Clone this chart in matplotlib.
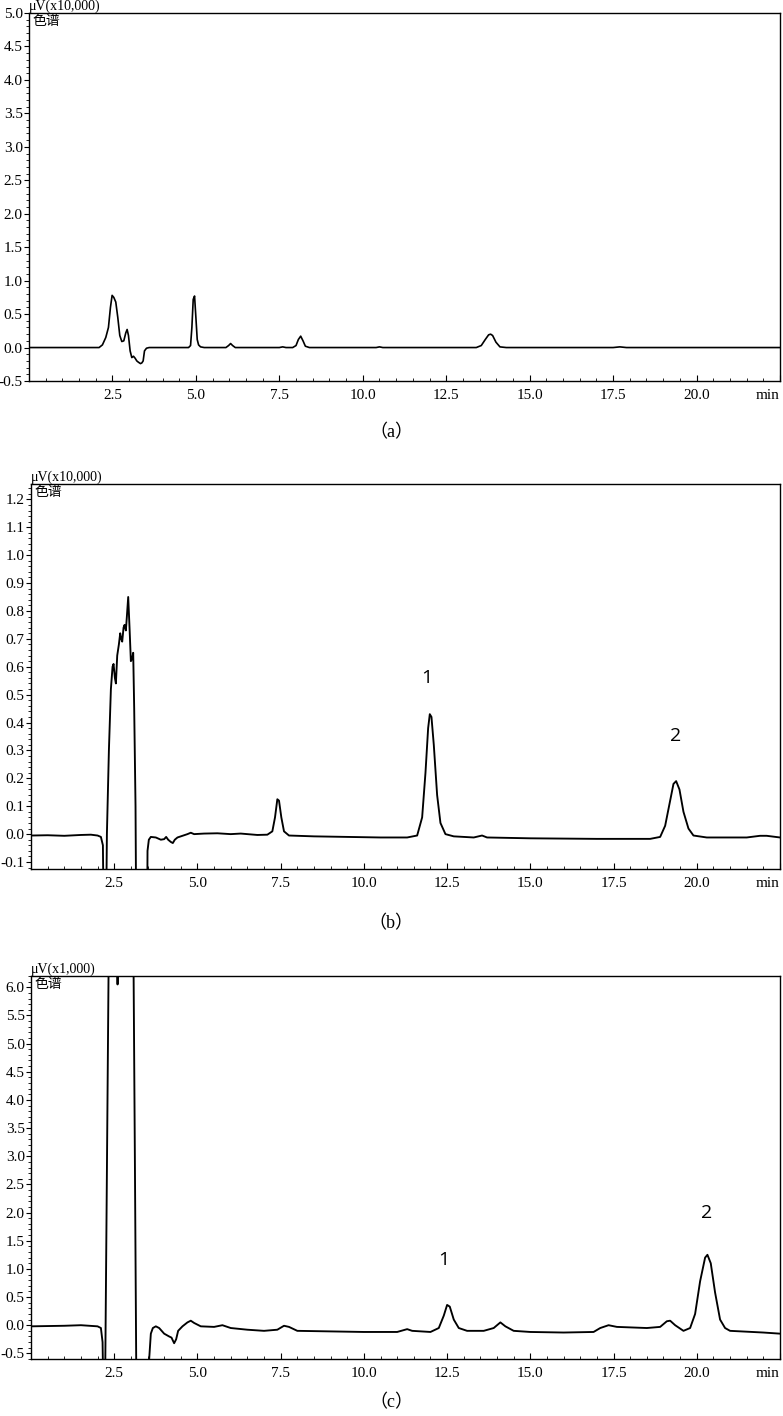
import matplotlib
matplotlib.use("Agg")
import matplotlib.pyplot as plt
from matplotlib.ticker import MultipleLocator

plt.rcParams['font.family'] = ['Liberation Serif', 'Noto Sans CJK SC', 'DejaVu Sans']

# ---------------- data ----------------
# Panel (a): µV (x10,000)
t_a = [0.0, 2.1, 2.2, 2.3, 2.38, 2.44, 2.49, 2.54, 2.6, 2.66, 2.72, 2.78, 2.84, 2.9, 2.94,
       2.98, 3.03, 3.08, 3.13, 3.18, 3.23, 3.28, 3.34, 3.38, 3.42, 3.46, 3.52, 3.6, 4.78,
       4.84, 4.88, 4.92, 4.96, 5.0, 5.04, 5.08, 5.14, 5.25, 5.9, 5.98, 6.04, 6.1, 6.18,
       7.5, 7.6, 7.7, 7.9, 8.0, 8.07, 8.14, 8.21, 8.28, 8.4, 10.4, 10.5, 10.6, 13.4, 13.55,
       13.67, 13.77, 13.83, 13.89, 13.99, 14.11, 14.3, 17.5, 17.7, 17.9, 22.5]
v_a = [0.0, 0.0, 0.04, 0.15, 0.3, 0.6, 0.78, 0.75, 0.68, 0.45, 0.18, 0.09, 0.1, 0.22, 0.27,
       0.18, -0.05, -0.15, -0.13, -0.16, -0.2, -0.22, -0.24, -0.23, -0.2, -0.05, -0.01, 0.0, 0.0,
       0.03, 0.3, 0.72, 0.77, 0.45, 0.12, 0.04, 0.01, 0.0, 0.0, 0.03, 0.06, 0.03, 0.0,
       0.0, 0.01, 0.0, 0.0, 0.03, 0.12, 0.17, 0.1, 0.02, 0.0, 0.0, 0.01, 0.0, 0.0, 0.03,
       0.12, 0.19, 0.2, 0.18, 0.08, 0.01, 0.0, 0.0, 0.01, 0.0, 0.0]

# Panel (b): µV (x10,000)
t_b = [0.0, 0.5, 1.0, 1.5, 1.8, 2.0, 2.1, 2.16, 2.2, 2.24, 2.28, 2.34, 2.4, 2.45, 2.48, 2.52,
       2.55, 2.59, 2.64, 2.68, 2.71, 2.74, 2.78, 2.81, 2.85, 2.88, 2.92, 2.96, 3.0, 3.04, 3.07,
       3.1, 3.14, 3.17, 3.48, 3.5, 3.54, 3.6, 3.75, 3.9, 4.0, 4.06, 4.12, 4.2, 4.26, 4.32, 4.4,
       4.55, 4.7, 4.8, 4.9, 5.2, 5.6, 6.0, 6.3, 6.8, 7.1, 7.25, 7.33, 7.4, 7.45, 7.52, 7.6,
       7.75, 8.5, 9.5, 10.5, 11.3, 11.6, 11.75, 11.85, 11.93, 11.98, 12.03, 12.1, 12.2, 12.3,
       12.45, 12.7, 13.3, 13.55, 13.7, 15.0, 17.0, 18.6, 18.9, 19.05, 19.2, 19.3, 19.38, 19.48,
       19.6, 19.75, 19.9, 20.3, 21.5, 21.9, 22.1, 22.5]
v_b = [-0.005, -0.004, -0.006, -0.003, -0.002, -0.005, -0.01, -0.04, -0.5, -0.5, 0.0, 0.3, 0.52,
       0.6, 0.61, 0.56, 0.54, 0.64, 0.68, 0.72, 0.7, 0.69, 0.74, 0.75, 0.73, 0.78, 0.85, 0.74,
       0.62, 0.63, 0.65, 0.45, 0.1, -0.5, -0.5, -0.06, -0.02, -0.01, -0.012, -0.02, -0.018, -0.01,
       -0.02, -0.028, -0.032, -0.02, -0.012, -0.006, 0.0, 0.005, 0.0, 0.002, 0.003, 0.0, 0.002,
       -0.003, -0.002, 0.01, 0.06, 0.125, 0.12, 0.06, 0.01, -0.005, -0.008, -0.01, -0.012,
       -0.012, -0.005, 0.06, 0.22, 0.38, 0.43, 0.42, 0.32, 0.14, 0.04, 0.0, -0.008, -0.012,
       -0.005, -0.012, -0.015, -0.017, -0.017, -0.01, 0.03, 0.12, 0.18, 0.19, 0.16, 0.08, 0.02,
       -0.005, -0.012, -0.012, -0.006, -0.006, -0.012]

# Panel (c): µV (x1,000)
t_c = [0.0, 1.0, 1.5, 2.0, 2.1, 2.15, 2.18, 2.22, 2.27, 2.34, 2.58, 2.6, 2.62, 3.05, 3.12, 3.17,
       3.5, 3.55, 3.6, 3.66, 3.75, 3.85, 4.0, 4.15, 4.22, 4.3, 4.36, 4.42, 4.55, 4.7, 4.8, 4.9,
       5.1, 5.5, 5.75, 6.0, 6.5, 7.0, 7.4, 7.6, 7.75, 8.0, 9.0, 10.0, 11.0, 11.3, 11.45, 12.0,
       12.25, 12.4, 12.5, 12.58, 12.7, 12.85, 13.1, 13.6, 13.9, 14.1, 14.25, 14.5, 15.0, 16.0,
       16.9, 17.1, 17.35, 17.6, 18.5, 18.9, 19.1, 19.2, 19.35, 19.6, 19.8, 19.95, 20.1, 20.25,
       20.32, 20.42, 20.55, 20.7, 20.85, 21.0, 22.0, 22.5]
v_c = [-0.02, -0.01, 0.0, -0.02, -0.05, -0.3, -1.5, -1.5, 2.0, 7.0, 9.0, 6.05, 9.0, 9.0, 3.0,
       -1.5, -1.5, -0.6, -0.15, -0.05, -0.02, -0.05, -0.15, -0.2, -0.22, -0.32, -0.25, -0.1,
       -0.02, 0.05, 0.08, 0.04, -0.02, -0.03, 0.0, -0.05, -0.08, -0.1, -0.08, -0.01, -0.03,
       -0.1, -0.11, -0.12, -0.12, -0.07, -0.1, -0.12, -0.05, 0.17, 0.36, 0.33, 0.1, -0.05, -0.1,
       -0.1, -0.05, 0.05, -0.02, -0.1, -0.12, -0.13, -0.12, -0.05, 0.0, -0.03, -0.05, -0.03,
       0.07, 0.08, 0.0, -0.1, -0.05, 0.2, 0.78, 1.2, 1.25, 1.1, 0.58, 0.1, -0.05, -0.1, -0.13,
       -0.15]

x_major = [2.5, 5.0, 7.5, 10.0, 12.5, 15.0, 17.5, 20.0, 22.5]
x_labels = ["2.5", "5.0", "7.5", "10.0", "12.5", "15.0", "17.5", "20.0", "min"]

panels = [
    dict(t=t_a, v=v_a, ylim=(-0.5, 5.0), yticks=[i * 0.5 - 0.5 for i in range(12)], ymin=0.1,
         unit="μV(x10,000)", cap="（a）", peaks=[], lw=1.2),
    dict(t=t_b, v=v_b, ylim=(-0.125, 1.255), yticks=[i * 0.1 - 0.1 for i in range(14)], ymin=0.02,
         unit="μV(x10,000)", cap="（b）", peaks=[("1", 11.9, 0.56), ("2", 19.35, 0.35)], lw=1.35),
    dict(t=t_c, v=v_c, ylim=(-0.6, 6.2), yticks=[i * 0.5 - 0.5 for i in range(14)], ymin=0.1,
         unit="μV(x1,000)", cap="（c）", peaks=[("1", 12.4, 1.15), ("2", 20.3, 2.0)], lw=1.35),
]

W, H = 783, 1416
fig = plt.figure(figsize=(W / 100, H / 100), dpi=100)

# pixel layout: (left, right, top, bottom, caption_y)
boxes = [(29, 780, 13, 381, 433), (31, 780, 484, 869, 924), (31, 780, 976, 1359, 1403)]

for p, (l, r, tp, b, cy) in zip(panels, boxes):
    ax = fig.add_axes([l / W, 1 - b / H, (r - l) / W, (b - tp) / H])
    ax.plot(p["t"], p["v"], color="black", lw=p["lw"])
    ax.set_xlim(0, 22.5)
    ax.set_ylim(*p["ylim"])
    ax.set_yticks(p["yticks"])
    ax.set_yticklabels([f"{y:.1f}".replace("-0.0", "0.0") for y in p["yticks"]])
    ax.yaxis.set_minor_locator(MultipleLocator(p["ymin"]))
    ax.set_xticks(x_major)
    ax.set_xticklabels(x_labels)
    ax.get_xticklabels()[-1].set_ha("right")
    ax.xaxis.set_minor_locator(MultipleLocator(0.5))
    ax.tick_params(axis="x", which="major", direction="in", length=4, labelsize=11, pad=6)
    ax.tick_params(axis="x", which="minor", direction="in", length=2.5)
    ax.tick_params(axis="y", which="major", direction="out", length=3.5, labelsize=11, pad=1)
    ax.tick_params(axis="y", which="minor", direction="out", length=2)
    for s in ax.spines.values():
        s.set_linewidth(1.0)
    ax.text(0.0, 1.0, p["unit"], transform=ax.transAxes, ha="left", va="bottom", fontsize=10)
    ax.text(0.004, 0.997, "色谱", transform=ax.transAxes, ha="left", va="top", fontsize=10,
            family=["Noto Sans CJK SC"])
    for lab, x, y in p["peaks"]:
        ax.text(x, y, lab, ha="center", va="center", fontsize=14, family=["Open Sans"])
    fig.text(391 / W, 1 - cy / H, p["cap"], ha="center", va="center", fontsize=13)

fig.savefig("out.png", dpi=100)
